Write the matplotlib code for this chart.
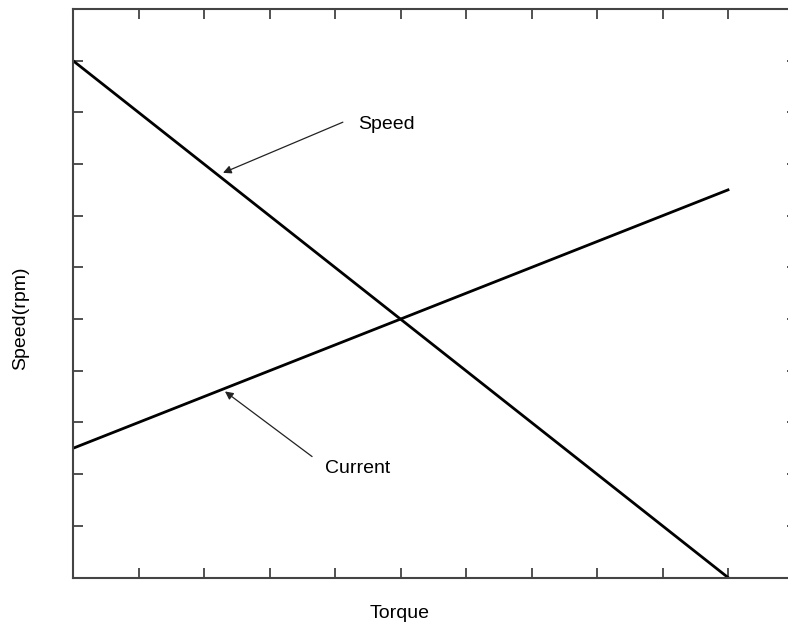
import numpy as np
import matplotlib
matplotlib.use('Agg')
import matplotlib.pyplot as plt

plt.rcParams['font.family'] = ['Liberation Sans', 'DejaVu Sans']

# torque axis and the two motor curves (arbitrary units)
torque = [0, 10]
speed = [10, 0]
current = [2.5, 7.5]

# annotation arrows: (label, text position, arrow tail, arrow head)
notes = [
    ("Speed", (4.79, 8.77), (4.12, 8.81), (2.29, 7.83)),
    ("Current", (4.35, 2.10), (3.65, 2.34), (2.32, 3.60)),
]

# axes box in pixels; the right spine sits just past the figure edge
left, bottom, width, height = 73, 51.5, 724, 568.5

fig = plt.figure(figsize=(7.88, 6.29), dpi=100)
ax = fig.add_axes([left/788, bottom/629, width/788, height/629])

ax.plot(torque, speed, color='black', lw=2.0)
ax.plot(torque, current, color='black', lw=2.0)

for label, txt, tail, head in notes:
    ax.annotate('', xy=head, xytext=tail,
                arrowprops=dict(arrowstyle='-|>', color='#222222', lw=0.9,
                                mutation_scale=12, shrinkA=0, shrinkB=0))
    ax.text(txt[0], txt[1], label, fontsize=14, ha='center', va='center')

ax.set_xlim(0, width/65.5)
ax.set_ylim(0, 11)
ax.set_xticks(np.arange(0, 12))
ax.set_yticks(np.arange(0, 12))
ax.tick_params(direction='in', length=7, width=1.2, color='#333333',
               top=True, right=True, labelbottom=False, labelleft=False)
for sp in ax.spines.values():
    sp.set_color('#444444')
    sp.set_linewidth(1.5)

ax.set_xlabel('Torque', fontsize=14)
ax.set_ylabel('Speed(rpm)', fontsize=14)
ax.xaxis.set_label_coords(327/width, -27/height)
ax.yaxis.set_label_coords(-44/width, 259.5/height)

fig.savefig('out.png', dpi=100)
